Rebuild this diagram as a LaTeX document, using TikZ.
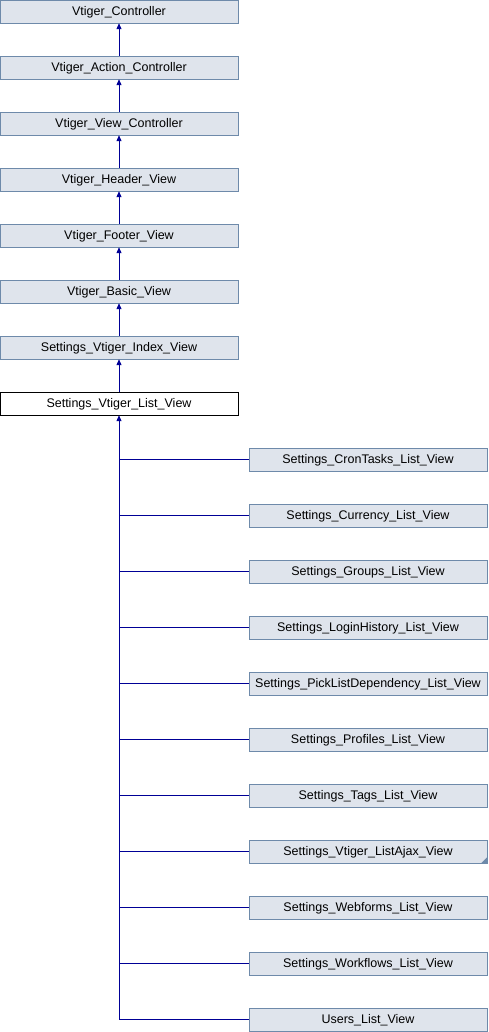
\documentclass[tikz,border=0pt]{standalone}
\usepackage{fontspec}
\setmainfont{Liberation Sans}
\usetikzlibrary{arrows.meta}

\definecolor{boxfill}{RGB}{223,228,236}
\definecolor{boxline}{RGB}{110,138,170}
\definecolor{linkblue}{RGB}{0,0,150}

\tikzstyle{klass} = [rectangle, minimum width=238pt, minimum height=23pt, inner sep=0pt, text height=9.5pt, text depth=2pt, text centered, draw=boxline, fill=boxfill, font=\fontsize{12.5pt}{14pt}\selectfont]
\tikzstyle{current} = [klass, draw=black, fill=white]
\tikzstyle{inherit} = [-{Triangle[length=6pt,width=5pt]}, draw=linkblue, line width=1pt]
\tikzstyle{branch} = [draw=linkblue, line width=1pt]

\begin{document}
\begin{tikzpicture}[node distance=56pt]
\useasboundingbox (0,0) rectangle (488pt,-1032pt);

%Base classes
\node (VC) [klass] at (119pt,-11.5pt) {Vtiger\_Controller};
\node (VAC) [klass,below of=VC] {Vtiger\_Action\_Controller};
\node (VVC) [klass,below of=VAC] {Vtiger\_View\_Controller};
\node (VHV) [klass,below of=VVC] {Vtiger\_Header\_View};
\node (VFV) [klass,below of=VHV] {Vtiger\_Footer\_View};
\node (VBV) [klass,below of=VFV] {Vtiger\_Basic\_View};
\node (SVIV) [klass,below of=VBV] {Settings\_Vtiger\_Index\_View};
\node (SVLV) [current,below of=SVIV] {Settings\_Vtiger\_List\_View};

%Derived classes
\node (Cron) [klass,below of=SVLV,xshift=249pt] {Settings\_CronTasks\_List\_View};
\node (Curr) [klass,below of=Cron] {Settings\_Currency\_List\_View};
\node (Grp) [klass,below of=Curr] {Settings\_Groups\_List\_View};
\node (Login) [klass,below of=Grp] {Settings\_LoginHistory\_List\_View};
\node (Pick) [klass,below of=Login] {Settings\_PickListDependency\_List\_View};
\node (Prof) [klass,below of=Pick] {Settings\_Profiles\_List\_View};
\node (Tags) [klass,below of=Prof] {Settings\_Tags\_List\_View};
\node (Ajax) [klass,below of=Tags] {Settings\_Vtiger\_ListAjax\_View};
\node (Web) [klass,below of=Ajax] {Settings\_Webforms\_List\_View};
\node (Work) [klass,below of=Web] {Settings\_Workflows\_List\_View};
\node (Users) [klass,below of=Work] {Users\_List\_View};
\fill [boxline] (Ajax.south east) -- ++(-6pt,0) -- ++(6pt,6pt) -- cycle;

%Arrows
\draw [inherit] (VAC) -- (VC);
\draw [inherit] (VVC) -- (VAC);
\draw [inherit] (VHV) -- (VVC);
\draw [inherit] (VFV) -- (VHV);
\draw [inherit] (VBV) -- (VFV);
\draw [inherit] (SVIV) -- (VBV);
\draw [inherit] (SVLV) -- (SVIV);
\draw [inherit] (Users.west) -| (SVLV.south);
\draw [branch] (Cron.west) -- (Cron.west -| SVLV.south);
\draw [branch] (Curr.west) -- (Curr.west -| SVLV.south);
\draw [branch] (Grp.west) -- (Grp.west -| SVLV.south);
\draw [branch] (Login.west) -- (Login.west -| SVLV.south);
\draw [branch] (Pick.west) -- (Pick.west -| SVLV.south);
\draw [branch] (Prof.west) -- (Prof.west -| SVLV.south);
\draw [branch] (Tags.west) -- (Tags.west -| SVLV.south);
\draw [branch] (Ajax.west) -- (Ajax.west -| SVLV.south);
\draw [branch] (Web.west) -- (Web.west -| SVLV.south);
\draw [branch] (Work.west) -- (Work.west -| SVLV.south);

\end{tikzpicture}
\end{document}
